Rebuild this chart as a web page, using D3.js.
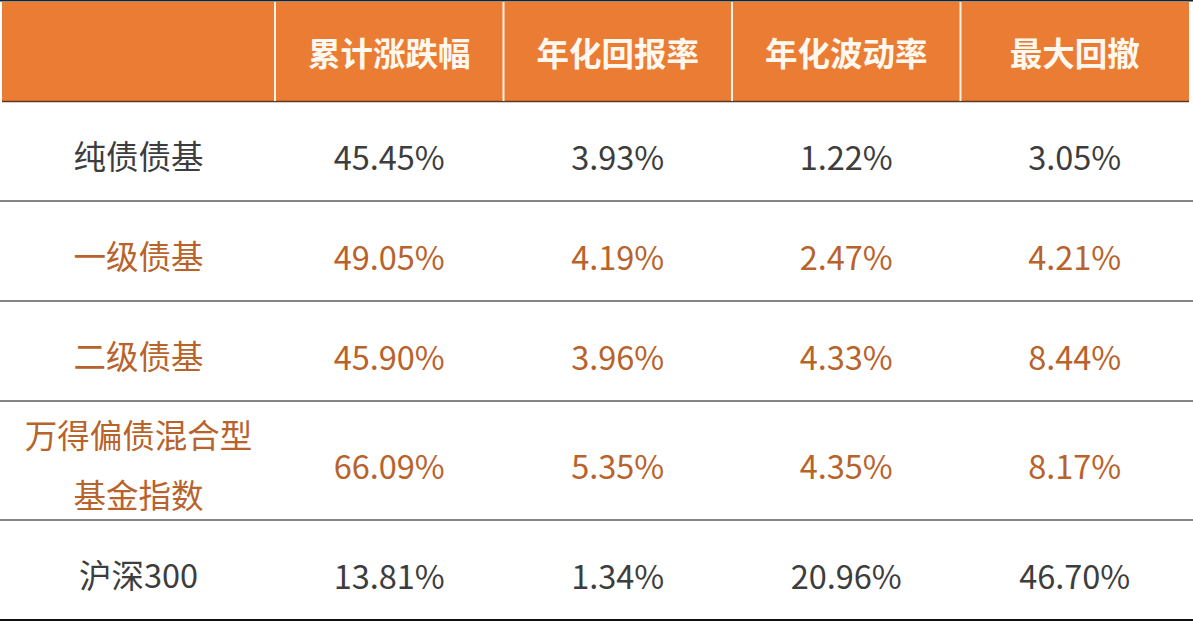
<!DOCTYPE html>
<html lang="zh">
<head>
<meta charset="utf-8">
<title>债基表现</title>
<script src="https://cdn.jsdelivr.net/npm/d3@7"></script>
<style>
  body { margin: 0; background: #fff; }
  svg { display: block; font-family: "Noto Sans CJK SC", "Noto Sans", sans-serif; }
</style>
</head>
<body>
<script>
// table content
var headers = ["累计涨跌幅", "年化回报率", "年化波动率", "最大回撤"];
var rowNames = [["纯债债基"], ["一级债基"], ["二级债基"], ["万得偏债混合型", "基金指数"], ["沪深300"]];
var cumReturn = ["45.45%", "49.05%", "45.90%", "66.09%", "13.81%"];
var annReturn = ["3.93%", "4.19%", "3.96%", "5.35%", "1.34%"];
var annVol = ["1.22%", "2.47%", "4.33%", "4.35%", "20.96%"];
var maxDD = ["3.05%", "4.21%", "8.44%", "8.17%", "46.70%"];
var highlight = [false, true, true, true, false];

var W = 1193, H = 625;
var orange = "#EB7C34", dark = "#3d3d3d", brown = "#B8632B";
var tLeft = 2, tRight = 1189, labelRight = 275, tTop = 2, headBottom = 101;
var fs = 32.5;

var svg = d3.select("body").append("svg").attr("width", W).attr("height", H);

// columns
var x = d3.scaleBand().domain(headers).range([labelRight, tRight]).padding(0);

// rows: height grows with number of label lines
var rowH = rowNames.map(function(r) { return 100 + (r.length - 1) * 19; });
var rowY = [];
var acc = headBottom;
rowH.forEach(function(h) { rowY.push(acc); acc += h; });

// header band
svg.append("rect").attr("x", tLeft).attr("y", tTop).attr("width", tRight - tLeft).attr("height", headBottom - tTop).attr("fill", orange);
svg.append("line").attr("x1", 0).attr("x2", W).attr("y1", 0.8).attr("y2", 0.8).attr("stroke", "#222").attr("stroke-width", 1.6);
svg.append("line").attr("x1", tLeft).attr("x2", tRight).attr("y1", headBottom + 0.5).attr("y2", headBottom + 0.5).attr("stroke", "#5a3a25").attr("stroke-width", 1.5);

// white dividers in header
svg.selectAll(".div").data(headers).enter().append("line")
  .attr("x1", function(d) { return x(d); }).attr("x2", function(d) { return x(d); })
  .attr("y1", tTop).attr("y2", headBottom)
  .attr("stroke", "#fdf1e4").attr("stroke-width", 2);

svg.selectAll(".head").data(headers).enter().append("text")
  .attr("x", function(d) { return x(d) + x.bandwidth() / 2; })
  .attr("y", 51)
  .attr("text-anchor", "middle").attr("dominant-baseline", "central")
  .attr("font-size", fs).attr("font-weight", 700).attr("fill", "#fff8ef")
  .text(function(d) { return d; });

// row separators
svg.selectAll(".sep").data(rowH).enter().append("line")
  .attr("x1", 0).attr("x2", W)
  .attr("y1", function(d, i) { return rowY[i] + d; }).attr("y2", function(d, i) { return rowY[i] + d; })
  .attr("stroke", function(d, i) { return i == rowH.length - 1 ? "#111" : "#5c5c5c"; })
  .attr("stroke-width", function(d, i) { return i == rowH.length - 1 ? 2 : 1.6; });

// row labels
rowNames.forEach(function(lines, i) {
  var mid = rowY[i] + rowH[i] / 2 + 4;
  var col = highlight[i] ? brown : dark;
  svg.selectAll(".lab" + i).data(lines).enter().append("text")
    .attr("x", (tLeft + labelRight) / 2)
    .attr("y", function(d, j) { return mid + (j - (lines.length - 1) / 2) * 60 - 1; })
    .attr("text-anchor", "middle").attr("dominant-baseline", "central")
    .attr("font-size", fs).attr("fill", col)
    .text(function(d) { return d; });
});

// values
var cols = [cumReturn, annReturn, annVol, maxDD];
cols.forEach(function(vals, c) {
  svg.selectAll(".v" + c).data(vals).enter().append("text")
    .attr("x", x(headers[c]) + x.bandwidth() / 2)
    .attr("y", function(d, i) { return rowY[i] + rowH[i] / 2 + 4; })
    .attr("text-anchor", "middle").attr("dominant-baseline", "central")
    .attr("font-size", fs).attr("fill", function(d, i) { return highlight[i] ? brown : dark; })
    .text(function(d) { return d; });
});
</script>
</body>
</html>
